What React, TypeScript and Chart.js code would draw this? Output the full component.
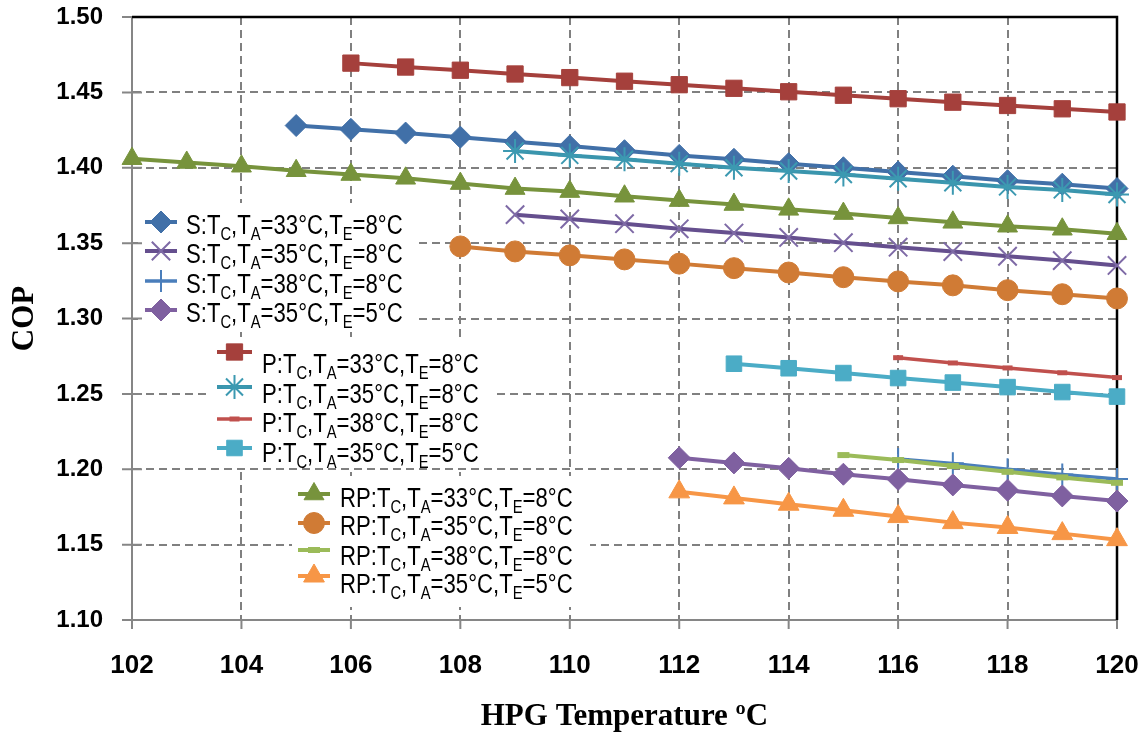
import React, { useEffect, useRef } from 'react';
import { Chart, registerables } from 'chart.js';
import { drawPoint } from 'chart.js/helpers';

Chart.register(...registerables);

// ---------- data ----------
const xTicks = [102, 104, 106, 108, 110, 112, 114, 116, 118, 120];
const yTicks = [1.1, 1.15, 1.2, 1.25, 1.3, 1.35, 1.4, 1.45, 1.5];

const seriesLabels = [
  'S:T_C,T_A=33°C,T_E=8°C',
  'S:T_C,T_A=35°C,T_E=8°C',
  'S:T_C,T_A=38°C,T_E=8°C',
  'S:T_C,T_A=35°C,T_E=5°C',
  'P:T_C,T_A=33°C,T_E=8°C',
  'P:T_C,T_A=35°C,T_E=8°C',
  'P:T_C,T_A=38°C,T_E=8°C',
  'P:T_C,T_A=35°C,T_E=5°C',
  'RP:T_C,T_A=33°C,T_E=8°C',
  'RP:T_C,T_A=35°C,T_E=8°C',
  'RP:T_C,T_A=38°C,T_E=8°C',
  'RP:T_C,T_A=35°C,T_E=5°C',
];

const s33_T = [105, 106, 107, 108, 109, 110, 111, 112, 113, 114, 115, 116, 117, 118, 119, 120];
const s33_COP = [1.428, 1.4255, 1.423, 1.4203, 1.4172, 1.4144, 1.4113, 1.4082, 1.4056, 1.4027, 1.4, 1.3972, 1.3944, 1.3914, 1.3891, 1.3862];

const s35_T = [109, 110, 111, 112, 113, 114, 115, 116, 117, 118, 119, 120];
const s35_COP = [1.3689, 1.366, 1.3629, 1.3595, 1.3567, 1.3538, 1.3503, 1.3473, 1.3444, 1.3413, 1.3384, 1.3352];

const s38_T = [116, 117, 118, 119, 120];
const s38_COP = [1.2068, 1.2039, 1.2, 1.1966, 1.1935];

const s35e5_T = [112, 113, 114, 115, 116, 117, 118, 119, 120];
const s35e5_COP = [1.2076, 1.2042, 1.2006, 1.1967, 1.1933, 1.1896, 1.1861, 1.1823, 1.1789];

const p33_T = [106, 107, 108, 109, 110, 111, 112, 113, 114, 115, 116, 117, 118, 119, 120];
const p33_COP = [1.4694, 1.4668, 1.4647, 1.4622, 1.4598, 1.4574, 1.4551, 1.4527, 1.4504, 1.4481, 1.4458, 1.4435, 1.4413, 1.4391, 1.437];

const p35_T = [109, 110, 111, 112, 113, 114, 115, 116, 117, 118, 119, 120];
const p35_COP = [1.4111, 1.4082, 1.4056, 1.4027, 1.4, 1.3978, 1.3955, 1.3927, 1.39, 1.3873, 1.3853, 1.3822];

const p38_T = [116, 117, 118, 119, 120];
const p38_COP = [1.274, 1.2705, 1.2672, 1.264, 1.2608];

const p35e5_T = [113, 114, 115, 116, 117, 118, 119, 120];
const p35e5_COP = [1.27, 1.267, 1.2638, 1.2605, 1.2575, 1.2545, 1.2512, 1.2482];

const rp33_T = [102, 103, 104, 105, 106, 107, 108, 109, 110, 111, 112, 113, 114, 115, 116, 117, 118, 119, 120];
const rp33_COP = [1.406, 1.4035, 1.401, 1.398, 1.3955, 1.393, 1.3895, 1.3862, 1.3842, 1.3811, 1.3782, 1.3756, 1.3724, 1.3696, 1.3667, 1.3638, 1.3612, 1.3592, 1.3562];

const rp35_T = [108, 109, 110, 111, 112, 113, 114, 115, 116, 117, 118, 119, 120];
const rp35_COP = [1.3478, 1.3445, 1.3419, 1.3392, 1.3364, 1.3334, 1.3305, 1.3274, 1.3246, 1.322, 1.3188, 1.3161, 1.3133];

const rp38_T = [115, 116, 117, 118, 119, 120];
const rp38_COP = [1.2094, 1.2061, 1.2021, 1.1983, 1.1946, 1.191];

const rp35e5_T = [112, 113, 114, 115, 116, 117, 118, 119, 120];
const rp35e5_COP = [1.185, 1.181, 1.1768, 1.1728, 1.1686, 1.1646, 1.1614, 1.1573, 1.1533];

// ---------- styles ----------
type Sty = { line: string; point: string; style: string; radius: number; bw: number; lw: number };
const styles: Sty[] = [
  { line: '#4170A8', point: '#4170A8', style: 'rectRot', radius: 11, bw: 1, lw: 4 },
  { line: '#654F8E', point: '#7E6AA6', style: 'crossRot', radius: 13, bw: 2, lw: 4 },
  { line: '#4A7EBB', point: '#4A7EBB', style: 'cross', radius: 11, bw: 2, lw: 3.5 },
  { line: '#7F60A0', point: '#7F60A0', style: 'rectRot', radius: 11, bw: 1, lw: 4 },
  { line: '#A5403C', point: '#A5403C', style: 'rect', radius: 11.5, bw: 1, lw: 4 },
  { line: '#3A95AD', point: '#3C99B1', style: 'star', radius: 12, bw: 2, lw: 4 },
  { line: '#C0504D', point: '#C0504D', style: 'line', radius: 5, bw: 5, lw: 3.5 },
  { line: '#4BACC6', point: '#4BACC6', style: 'rect', radius: 11, bw: 1, lw: 4 },
  { line: '#77933C', point: '#77933C', style: 'triangle', radius: 11.5, bw: 1, lw: 4 },
  { line: '#D07B35', point: '#D07B35', style: 'circle', radius: 10.5, bw: 1, lw: 4 },
  { line: '#9BBB59', point: '#9BBB59', style: 'line', radius: 6, bw: 6, lw: 4 },
  { line: '#F79646', point: '#F79646', style: 'triangle', radius: 12, bw: 1, lw: 4 },
];

const seriesData: [number[], number[]][] = [
  [s33_T, s33_COP], [s35_T, s35_COP], [s38_T, s38_COP], [s35e5_T, s35e5_COP],
  [p33_T, p33_COP], [p35_T, p35_COP], [p38_T, p38_COP], [p35e5_T, p35e5_COP],
  [rp33_T, rp33_COP], [rp35_T, rp35_COP], [rp38_T, rp38_COP], [rp35e5_T, rp35e5_COP],
];

const LEG_FONT = "27px 'Liberation Sans', Arial, sans-serif";
const SUB_FONT = "18px 'Liberation Sans', Arial, sans-serif";
const CONDENSE = 0.82;

const legendGroups = [
  { box: [138, 203, 280, 129], x1: 145, x2: 177, tx: 186, rows: [[0, 222, 234], [1, 251, 263], [2, 281, 293], [3, 310, 322]] },
  { box: [210, 337, 282, 130], x1: 217, x2: 252, tx: 262, rows: [[4, 352, 373], [5, 387, 403], [6, 419, 432], [7, 448, 462]] },
  { box: [292, 476, 298, 131], x1: 298, x2: 330, tx: 340, rows: [[8, 494, 507], [9, 523, 535], [10, 550, 565], [11, 576, 593]] },
];

function drawRich(ctx: CanvasRenderingContext2D, text: string, x: number, y: number) {
  ctx.save();
  ctx.translate(x, y);
  ctx.scale(CONDENSE, 1);
  let cx = 0;
  let buf = '';
  const flush = () => {
    if (!buf) return;
    ctx.font = LEG_FONT;
    ctx.fillText(buf, cx, 0);
    cx += ctx.measureText(buf).width;
    buf = '';
  };
  for (let i = 0; i < text.length; i++) {
    const ch = text[i];
    if (ch === '_' && i + 1 < text.length) {
      flush();
      const s = text[i + 1];
      ctx.font = SUB_FONT;
      ctx.fillText(s, cx, 6);
      cx += ctx.measureText(s).width;
      i++;
    } else {
      buf += ch;
    }
  }
  flush();
  ctx.restore();
}

const decor = {
  id: 'decor',
  beforeDatasetsDraw(chart: any) {
    const { ctx, chartArea: a, scales } = chart;
    ctx.save();
    ctx.fillStyle = '#ffffff';
    for (const g of legendGroups) ctx.fillRect(g.box[0], g.box[1], g.box[2], g.box[3]);
    ctx.strokeStyle = '#868686';
    ctx.lineWidth = 2;
    ctx.beginPath();
    for (const v of yTicks) {
      const y = scales.y.getPixelForValue(v);
      ctx.moveTo(a.left - 10, y);
      ctx.lineTo(a.left + 10, y);
    }
    for (const v of xTicks) {
      const x = scales.x.getPixelForValue(v);
      ctx.moveTo(x, a.bottom);
      ctx.lineTo(x, a.bottom + 9);
    }
    ctx.stroke();
    ctx.strokeStyle = '#000000';
    ctx.lineWidth = 2.5;
    ctx.beginPath();
    ctx.moveTo(a.left, a.top);
    ctx.lineTo(a.right, a.top);
    ctx.lineTo(a.right, a.bottom);
    ctx.stroke();
    ctx.restore();
  },
  afterDatasetsDraw(chart: any) {
    const { ctx } = chart;
    ctx.save();
    for (const g of legendGroups) {
      for (const [di, my, by] of g.rows) {
        const st = styles[di];
        ctx.strokeStyle = st.line;
        ctx.lineWidth = st.lw;
        ctx.setLineDash([]);
        ctx.beginPath();
        ctx.moveTo(g.x1, my);
        ctx.lineTo(g.x2, my);
        ctx.stroke();
        ctx.fillStyle = st.point;
        ctx.strokeStyle = st.point;
        ctx.lineWidth = st.bw;
        drawPoint(ctx, { pointStyle: st.style as any, radius: st.radius, rotation: 0, borderWidth: st.bw }, (g.x1 + g.x2) / 2, my);
        ctx.fillStyle = '#000000';
        ctx.textBaseline = 'alphabetic';
        ctx.textAlign = 'left';
        drawRich(ctx, seriesLabels[di], g.tx, by);
      }
    }
    ctx.restore();
  },
};

const zeroPad = (s: any) => {
  s.paddingTop = 0;
  s.paddingBottom = 0;
  s.paddingLeft = 0;
  s.paddingRight = 0;
};

export default function App() {
  const ref = useRef<HTMLCanvasElement | null>(null);
  useEffect(() => {
    if (!ref.current) return;
    const n = seriesData.length;
    const datasets = seriesData.map(([xs, ys], i) => {
      const st = styles[i];
      return {
        label: seriesLabels[i],
        data: xs.map((x, k) => ({ x, y: ys[k] })),
        borderColor: st.line,
        backgroundColor: st.point,
        borderWidth: st.lw,
        pointStyle: st.style,
        pointRadius: st.radius,
        pointBorderWidth: st.bw,
        pointBorderColor: st.point,
        pointBackgroundColor: st.point,
        showLine: true,
        tension: 0,
        clip: 14,
        order: n - i,
      };
    });
    const chart = new Chart(ref.current, {
      type: 'scatter',
      data: { datasets: datasets as any },
      plugins: [decor],
      options: {
        animation: false,
        responsive: false,
        devicePixelRatio: 1,
        layout: { autoPadding: false, padding: { top: 17, right: 30, left: 0, bottom: 0 } },
        plugins: { legend: { display: false }, tooltip: { enabled: false } },
        scales: {
          x: {
            type: 'linear',
            min: 102,
            max: 120,
            afterBuildTicks: (s: any) => { s.ticks = xTicks.map((v) => ({ value: v })); },
            afterFit: (s: any) => { s.height = 125; zeroPad(s); },
            grid: { color: '#808080', lineWidth: 2, drawTicks: false },
            border: { display: true, color: '#868686', width: 2, dash: [8, 5] },
            ticks: {
              color: '#000',
              padding: 30,
              maxRotation: 0,
              font: { family: "'Liberation Sans', Arial, sans-serif", size: 26, weight: 'bold' },
              callback: (v: any) => String(v),
            },
            title: {
              display: true,
              text: 'HPG Temperature ºC',
              color: '#000',
              font: { family: "'Liberation Serif', 'Times New Roman', serif", size: 31, weight: 'bold' },
              padding: { top: 0, bottom: 9 },
            },
          },
          y: {
            type: 'linear',
            min: 1.1,
            max: 1.5,
            afterBuildTicks: (s: any) => { s.ticks = yTicks.map((v) => ({ value: v })); },
            afterFit: (s: any) => { s.width = 132; zeroPad(s); },
            grid: { color: '#808080', lineWidth: 2, drawTicks: false },
            border: { display: true, color: '#868686', width: 2, dash: [8, 5] },
            ticks: {
              color: '#000',
              padding: 29,
              font: { family: "'Liberation Sans', Arial, sans-serif", size: 24, weight: 'bold' },
              callback: (v: any) => Number(v).toFixed(2),
            },
            title: {
              display: true,
              text: 'COP',
              color: '#000',
              font: { family: "'Liberation Serif', 'Times New Roman', serif", size: 31, weight: 'bold' },
              padding: { top: 6, bottom: 0 },
            },
          },
        },
      } as any,
    });
    return () => chart.destroy();
  }, []);
  return (
    <div style={{ position: 'absolute', left: 0, top: 0, width: 1147, height: 745, background: '#fff' }}>
      <canvas ref={ref} width={1147} height={745} style={{ display: 'block' }} />
    </div>
  );
}
